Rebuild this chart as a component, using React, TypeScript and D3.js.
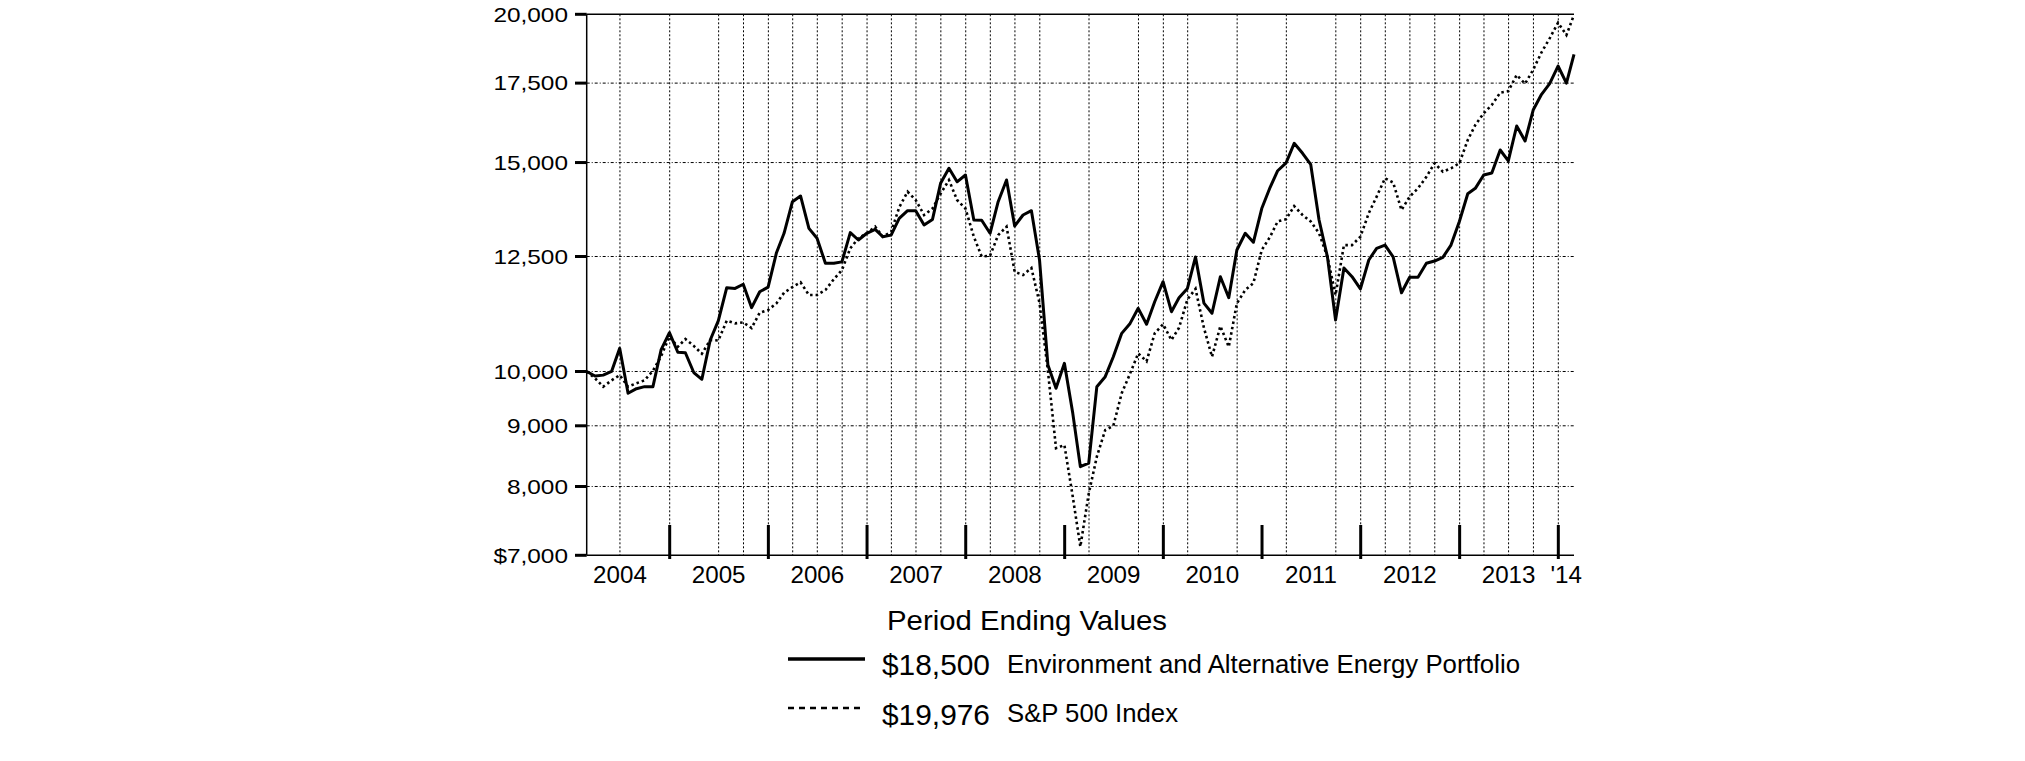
import React from "react";
import * as d3 from "d3";

// ---- DATA ----
// Month-end values, Feb 2004 .. Feb 2014 (121 points)
const START_YEAR = 2004;
const START_MONTH = 1; // February (0-based)
const portfolio = [
  10000, 9912, 9930, 10000, 10460, 9586, 9672, 9710, 9710, 10427, 10782, 10380,
  10370, 9980, 9850, 10630, 11036, 11766, 11750, 11844, 11318, 11674, 11780, 12592,
  13076, 13902, 14058, 13202, 12950, 12336, 12336, 12370, 13092, 12907, 13076, 13176,
  12990, 13030, 13462, 13662, 13662, 13288, 13430, 14408, 14834, 14450, 14642, 13418,
  13410, 13076, 13902, 14500, 13262, 13548, 13662, 12416, 10126, 9680, 10160, 9220,
  8314, 8370, 9710, 9900, 10290, 10768, 10978, 11304, 10960, 11450, 11904, 11230,
  11540, 11750, 12490, 11420, 11196, 12020, 11540, 12658, 13076, 12850, 13720, 14296,
  14764, 14990, 15570, 15272, 14948, 13418, 12490, 11052, 12224, 12020, 11740, 12416,
  12700, 12780, 12490, 11650, 12006, 12006, 12336, 12390, 12480, 12780, 13380, 14120,
  14268, 14642, 14700, 15370, 15050, 16102, 15640, 16610, 17124, 17480, 18090, 17500,
  18500,
];
const sp500 = [
  10000, 9868, 9710, 9830, 9930, 9710, 9774, 9830, 10014, 10300, 10700, 10490,
  10650, 10510, 10350, 10630, 10620, 11036, 10978, 11000, 10880, 11208, 11268, 11414,
  11650, 11780, 11890, 11600, 11600, 11713, 11960, 12176, 12700, 12950, 13076, 13245,
  12990, 13110, 13752, 14174, 13948, 13548, 13720, 14120, 14500, 13948, 13720, 12990,
  12500, 12520, 13030, 13245, 12136, 12060, 12224, 11420, 10014, 8616, 8670, 7842,
  7118, 7890, 8476, 8926, 9000, 9586, 9960, 10358, 10200, 10768, 10960, 10630,
  10886, 11500, 11740, 10886, 10290, 10920, 10490, 11414, 11713, 11870, 12658, 12990,
  13380, 13440, 13785, 13548, 13380, 13076, 12490, 11600, 12780, 12780, 12990, 13600,
  14040, 14548, 14430, 13680, 14040, 14268, 14590, 14980, 14735, 14834, 14980, 15671,
  16134, 16504, 16772, 17180, 17230, 17778, 17480, 17960, 18580, 19090, 19676, 19212,
  19976,
];
const yTicks = [7000, 8000, 9000, 10000, 12500, 15000, 17500, 20000];
const yGrid = [8000, 9000, 10000, 12500, 15000, 17500];
const yearLabels = ["2004", "2005", "2006", "2007", "2008", "2009", "2010", "2011", "2012", "2013"];
const lastYearLabel = "'14";
const majorTickYears = [2005, 2006, 2007, 2008, 2009, 2010, 2011, 2012, 2013, 2014];
// quarter gridlines visible in the reference (year-month)
const gridMonths = [
  "2004-07", "2005-01", "2005-07", "2005-10", "2006-01", "2006-04", "2006-07", "2006-10",
  "2007-01", "2007-04", "2007-07", "2007-10", "2008-01", "2008-04", "2008-07", "2008-10",
  "2009-04", "2009-10", "2010-01", "2010-04", "2010-10", "2011-04", "2011-10", "2012-01",
  "2012-04", "2012-07", "2012-10", "2013-01", "2013-04", "2013-07", "2013-10", "2014-01",
];
const legendTitle = "Period Ending Values";
const legendItems = [
  { value: "$18,500", name: "Environment and Alternative Energy Portfolio", dashed: false },
  { value: "$19,976", name: "S&P 500 Index", dashed: true },
];

// ---- LAYOUT ----
const W = 2025;
const H = 761;
const L = 586.7;
const R = 1574;
const T = 14.3;
const B = 555.3;
const FONT = "'Liberation Sans', Arial, Helvetica, sans-serif";

const dates = portfolio.map((_, i) => new Date(START_YEAR, START_MONTH + 1 + i, 0));

export default function App() {
  const x = d3.scaleTime().domain([dates[0], dates[dates.length - 1]]).range([L, R]);
  const y = d3.scaleLog().domain([7000, 20000]).range([B, T]);
  const line = d3
    .line<number>()
    .x((_, i) => x(dates[i]))
    .y((d) => y(d));
  const fmt = d3.format(",");

  const parseYM = (s: string) => {
    const [yy, mm] = s.split("-").map(Number);
    return new Date(yy, mm - 1, 1);
  };

  return (
    <svg
      width={W}
      height={H}
      style={{ position: "absolute", left: 0, top: 0, background: "#fff" }}
      fontFamily={FONT}
    >
      <rect x={0} y={0} width={W} height={H} fill="#fff" />
      {/* horizontal grid */}
      {yGrid.map((v) => (
        <line
          key={"hg" + v}
          x1={L}
          x2={R}
          y1={y(v)}
          y2={y(v)}
          stroke="#000"
          strokeWidth={1}
          strokeDasharray="3 2 1 2"
        />
      ))}
      {/* vertical grid */}
      {gridMonths.map((m) => {
        const gx = x(parseYM(m));
        return (
          <line
            key={"vg" + m}
            x1={gx}
            x2={gx}
            y1={T}
            y2={B}
            stroke="#000"
            strokeWidth={1}
            strokeDasharray="2 2"
          />
        );
      })}
      {/* top border */}
      <line x1={L} x2={R} y1={T} y2={T} stroke="#000" strokeWidth={1.5} />
      {/* left axis */}
      <line x1={L} x2={L} y1={T} y2={B} stroke="#000" strokeWidth={1.5} />
      {/* bottom axis */}
      <line x1={L} x2={R} y1={B} y2={B} stroke="#000" strokeWidth={1.5} />
      {/* y ticks and labels */}
      {yTicks.map((v) => (
        <g key={"yt" + v}>
          <line x1={575} x2={L} y1={y(v)} y2={y(v)} stroke="#000" strokeWidth={3} />
          <text
            transform={`translate(568,${y(v) + 7.3}) scale(1.22,1)`}
            textAnchor="end"
            fontSize={20}
            fill="#000"
          >
            {(v === 7000 ? "$" : "") + fmt(v)}
          </text>
        </g>
      ))}
      {/* major x ticks */}
      {majorTickYears.map((yr) => {
        const tx = x(new Date(yr, 0, 1));
        return (
          <line key={"mt" + yr} x1={tx} x2={tx} y1={525} y2={559} stroke="#000" strokeWidth={3} />
        );
      })}
      {/* year labels */}
      {yearLabels.map((yl) => (
        <text
          key={"yl" + yl}
          transform={`translate(${x(new Date(+yl, 6, 1))},583.3) scale(1.05,1)`}
          textAnchor="middle"
          fontSize={23}
          fill="#000"
        >
          {yl}
        </text>
      ))}
      <text
        transform={`translate(${(x(new Date(2014, 0, 1)) + R) / 2},583.3) scale(1.05,1)`}
        textAnchor="middle"
        fontSize={23}
        fill="#000"
      >
        {lastYearLabel}
      </text>
      {/* series */}
      <path
        d={line(sp500) || ""}
        fill="none"
        stroke="#000"
        strokeWidth={2.6}
        strokeDasharray="2.5 3"
      />
      <path
        d={line(portfolio) || ""}
        fill="none"
        stroke="#000"
        strokeWidth={3}
        strokeLinejoin="round"
      />
      {/* legend */}
      <text x={887} y={630} fontSize={28} textLength={280} lengthAdjust="spacingAndGlyphs" fill="#000">
        {legendTitle}
      </text>
      {legendItems.map((it, k) => {
        const ly = k === 0 ? 659 : 708;
        const vb = k === 0 ? 675 : 725;
        const nb = k === 0 ? 673 : 722;
        const nameW = k === 0 ? 513 : 171;
        return (
          <g key={"lg" + k}>
            <line
              x1={788}
              x2={865}
              y1={ly}
              y2={ly}
              stroke="#000"
              strokeWidth={it.dashed ? 2.5 : 3.5}
              strokeDasharray={it.dashed ? "6 5" : undefined}
            />
            <text x={882} y={vb} fontSize={30} textLength={108} lengthAdjust="spacingAndGlyphs" fill="#000">
              {it.value}
            </text>
            <text x={1007} y={nb} fontSize={26} textLength={nameW} lengthAdjust="spacingAndGlyphs" fill="#000">
              {it.name}
            </text>
          </g>
        );
      })}
    </svg>
  );
}
